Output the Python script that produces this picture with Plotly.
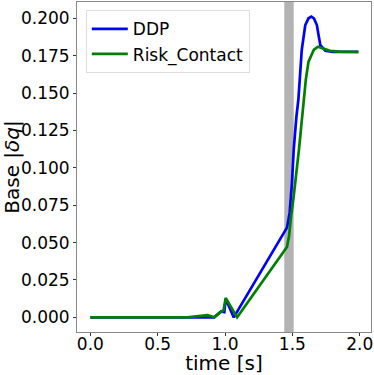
import plotly.graph_objects as go

# DDP trajectory (time [s], base |dq|)
ddp_t = [0.0, 0.30, 0.70, 0.85, 0.92, 0.97, 0.995, 1.005, 1.065,
         1.46, 1.48, 1.497, 1.51, 1.53, 1.545, 1.57, 1.596, 1.62,
         1.641, 1.66, 1.682, 1.70, 1.708, 1.745, 1.80, 1.99]
ddp_v = [0.0, 0.0, 0.0, 0.0005, 0.0, 0.004, 0.0035, 0.0125, 0.0,
         0.060, 0.070, 0.090, 0.112, 0.134, 0.146, 0.179, 0.1955, 0.200,
         0.2012, 0.200, 0.1955, 0.186, 0.182, 0.1783, 0.1776, 0.1775]

# Risk_Contact trajectory
risk_t = [0.0, 0.30, 0.72, 0.87, 0.92, 0.96, 0.99, 1.005, 1.09,
          1.46, 1.475, 1.49, 1.51, 1.55, 1.585, 1.60, 1.62, 1.66,
          1.69, 1.73, 1.78, 1.85, 1.99]
risk_v = [0.0, 0.0, 0.0, 0.0015, 0.0, 0.003, 0.005, 0.013, 0.0,
          0.047, 0.054, 0.067, 0.081, 0.113, 0.145, 0.159, 0.171, 0.179,
          0.181, 0.1797, 0.1782, 0.1777, 0.1775]

# contact window (gray band)
band_start = 1.44
band_end = 1.51

fig = go.Figure()

fig.add_vrect(x0=band_start, x1=band_end, fillcolor="#b3b3b3", opacity=1,
              line_width=0, layer="below")

fig.add_trace(go.Scatter(x=ddp_t, y=ddp_v, mode="lines", name="DDP",
                         line=dict(color="#0000ff", width=2.7)))
fig.add_trace(go.Scatter(x=risk_t, y=risk_v, mode="lines", name="Risk_Contact",
                         line=dict(color="#008000", width=2.7)))

axis_common = dict(
    showgrid=False, zeroline=False,
    showline=True, linecolor="#888888", linewidth=1, mirror=True,
    ticks="outside", ticklen=3, tickcolor="#333333",
    tickfont=dict(family="DejaVu Sans", size=17, color="black"),
)

fig.update_xaxes(range=[-0.099, 2.084], dtick=0.5, tickformat=".1f",
                 ticklabelstandoff=-6,
                 title=dict(text="time [s]", standoff=6,
                            font=dict(family="DejaVu Sans", size=20, color="black")),
                 **axis_common)
fig.update_yaxes(range=[-0.0098, 0.2109], dtick=0.025, tickformat=".3f",
                 title=dict(text="Base |<i>δq</i>|", standoff=2,
                            font=dict(family="DejaVu Sans", size=20, color="black")),
                 **axis_common)

fig.update_layout(
    width=374, height=375,
    margin=dict(l=77, r=3, t=2, b=43, autoexpand=False),
    plot_bgcolor="white", paper_bgcolor="white",
    showlegend=True,
    legend=dict(x=0.03, y=0.975, xanchor="left", yanchor="top", itemwidth=36,
                bgcolor="rgba(255,255,255,0.8)", bordercolor="#dddddd", borderwidth=1,
                font=dict(family="DejaVu Sans", size=17, color="black")),
)

# the page body has a default 8px margin; drop it so the figure sits at (0, 0)
fig.write_html("out.html", config={"displayModeBar": False},
               post_script="document.body.style.margin='0';document.body.style.overflow='hidden';")
